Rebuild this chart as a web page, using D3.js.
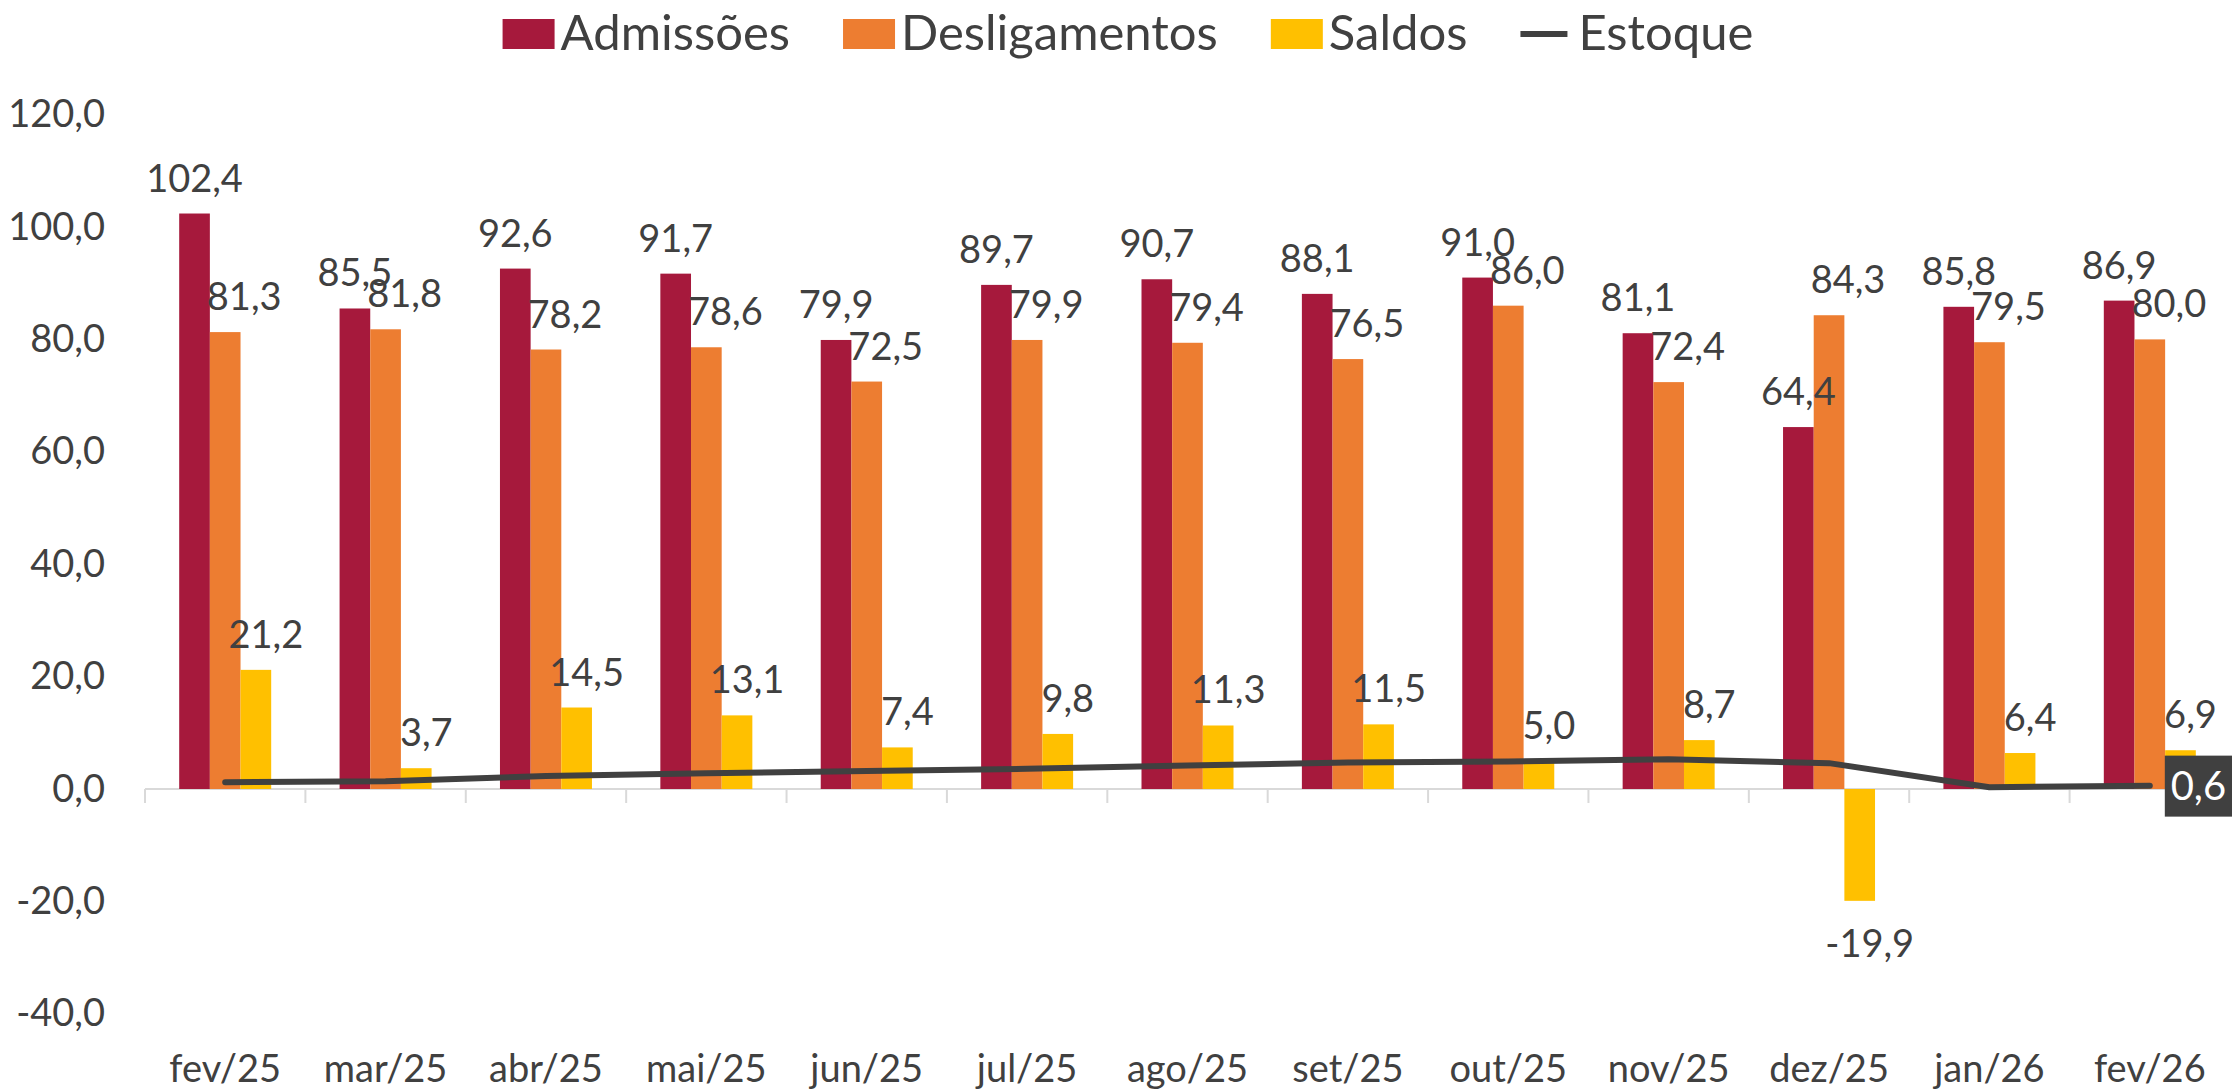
<!DOCTYPE html>
<meta charset="utf-8">
<body style="margin:0;background:#fff">

<script src="https://d3js.org/d3.v7.min.js"></script>

<div id="chart"></div>

<script>

    // data (milhares)
    var categories = ["fev/25","mar/25","abr/25","mai/25","jun/25","jul/25","ago/25","set/25","out/25","nov/25","dez/25","jan/26","fev/26"];
    var admissoes = [102.4, 85.5, 92.6, 91.7, 79.9, 89.7, 90.7, 88.1, 91.0, 81.1, 64.4, 85.8, 86.9];
    var desligamentos = [81.3, 81.8, 78.2, 78.6, 72.5, 79.9, 79.4, 76.5, 86.0, 72.4, 84.3, 79.5, 80.0];
    var saldos = [21.2, 3.7, 14.5, 13.1, 7.4, 9.8, 11.3, 11.5, 5.0, 8.7, -19.9, 6.4, 6.9];
    var estoque = [1.2, 1.4, 2.3, 2.8, 3.2, 3.6, 4.2, 4.7, 4.9, 5.3, 4.6, 0.3, 0.6];
    var yTicks = [-40, -20, 0, 20, 40, 60, 80, 100, 120];

    var seriesNames = ["Admissões", "Desligamentos", "Saldos"];
    var seriesColors = ["#A6193C", "#ED7D31", "#FFC000"];
    var lineColor = "#404040";
    var textColor = "#404040";
    var font = "Lato, 'Open Sans', sans-serif";

    var W = 2232, H = 1091;

    var svg = d3.select("#chart")
        .append("svg")
        .attr("width", W)
        .attr("height", H)
        .style("font-family", font);

    function fmt(v) {
        return (v < 0 ? "-" : "") + Math.abs(v).toFixed(1).replace(".", ",");
    }

    // scales
    var x = d3.scaleBand()
        .domain(categories)
        .range([145, 2230]);

    var groupW = 92;
    var xs = d3.scaleBand()
        .domain(seriesNames)
        .range([0, groupW]);

    var y = d3.scaleLinear()
        .domain([-40, 120])
        .range([1013.8, 114.6]);

    function groupLeft(c) { return x(c) + x.bandwidth() / 2 - groupW / 2; }

    // y axis labels
    var yAxis = svg.append("g")
        .attr("transform", "translate(105,0)")
        .call(d3.axisLeft(y).tickValues(yTicks).tickSize(0).tickPadding(0).tickFormat(fmt));
    yAxis.select(".domain").remove();
    yAxis.selectAll("text")
        .attr("fill", textColor)
        .style("font-size", "38px")
        .style("font-family", font);

    // x axis line + ticks
    svg.append("line")
        .attr("x1", x.range()[0]).attr("x2", x.range()[1])
        .attr("y1", y(0)).attr("y2", y(0))
        .attr("stroke", "#D9D9D9")
        .attr("stroke-width", 2);
    var bounds = categories.map(function(c) { return x(c); });
    bounds.push(x.range()[1]);
    svg.selectAll(".xtick")
        .data(bounds)
        .enter()
        .append("line")
        .attr("x1", function(d) { return d; })
        .attr("x2", function(d) { return d; })
        .attr("y1", y(0))
        .attr("y2", y(0) + 14)
        .attr("stroke", "#D9D9D9")
        .attr("stroke-width", 2);

    var xAxis = svg.append("g")
        .attr("transform", "translate(0,1055)")
        .call(d3.axisBottom(x).tickSize(0).tickPadding(0));
    xAxis.select(".domain").remove();
    xAxis.selectAll("text")
        .attr("fill", textColor)
        .style("font-size", "38px")
        .style("font-family", font);

    // bars
    var seriesData = [admissoes, desligamentos, saldos];
    var labelShift = [0, 19, 10];

    seriesData.forEach(function(vals, si) {
        var name = seriesNames[si];
        svg.selectAll(".bar" + si)
            .data(vals)
            .enter()
            .append("rect")
            .attr("x", function(d, i) { return groupLeft(categories[i]) + xs(name); })
            .attr("width", xs.bandwidth())
            .attr("y", function(d) { return y(Math.max(0, d)); })
            .attr("height", function(d) { return Math.abs(y(d) - y(0)); })
            .attr("fill", seriesColors[si]);
    });

    // bar labels
    seriesData.forEach(function(vals, si) {
        var name = seriesNames[si];
        svg.selectAll(".lab" + si)
            .data(vals)
            .enter()
            .append("text")
            .attr("x", function(d, i) { return groupLeft(categories[i]) + xs(name) + xs.bandwidth() / 2 + labelShift[si]; })
            .attr("y", function(d) { return d >= 0 ? y(d) - 22 : y(d) + 56; })
            .attr("text-anchor", "middle")
            .attr("fill", textColor)
            .style("font-size", "38px")
            .text(function(d) { return fmt(d); });
    });

    // estoque line
    var line = d3.line()
        .x(function(d, i) { return x(categories[i]) + x.bandwidth() / 2; })
        .y(function(d) { return y(d); });
    svg.append("path")
        .datum(estoque)
        .attr("d", line)
        .attr("fill", "none")
        .attr("stroke", lineColor)
        .attr("stroke-width", 6)
        .attr("stroke-linecap", "round")
        .attr("stroke-linejoin", "round");

    // last value label
    var lastI = estoque.length - 1;
    var lx = x(categories[lastI]) + x.bandwidth() / 2 + 15;
    var ly = y(estoque[lastI]);
    svg.append("rect")
        .attr("x", lx)
        .attr("y", ly - 30)
        .attr("width", W - lx)
        .attr("height", 61)
        .attr("fill", lineColor);
    svg.append("text")
        .attr("x", lx + (W - lx) / 2)
        .attr("y", ly + 14)
        .attr("text-anchor", "middle")
        .attr("fill", "#fff")
        .style("font-size", "40px")
        .text(fmt(estoque[lastI]));

    // legend
    var legendItems = seriesNames.concat(["Estoque"]);
    var legend = svg.append("g");
    var lxPos = 0;
    legendItems.forEach(function(name, i) {
        var g = legend.append("g").attr("transform", "translate(" + lxPos + ",0)");
        if (i < 3) {
            g.append("rect")
                .attr("x", 0).attr("y", 19)
                .attr("width", 52).attr("height", 30)
                .attr("fill", seriesColors[i]);
        } else {
            g.append("line")
                .attr("x1", 0).attr("x2", 47)
                .attr("y1", 34).attr("y2", 34)
                .attr("stroke", lineColor)
                .attr("stroke-width", 6);
        }
        var t = g.append("text")
            .attr("x", 58)
            .attr("y", 50)
            .attr("fill", textColor)
            .style("font-size", "49px")
            .text(name);
        lxPos += 58 + t.node().getComputedTextLength() + 53;
    });
    var legendW = lxPos - 53;
    legend.attr("transform", "translate(" + (1128 - legendW / 2) + ",0)");

</script>

</body>
